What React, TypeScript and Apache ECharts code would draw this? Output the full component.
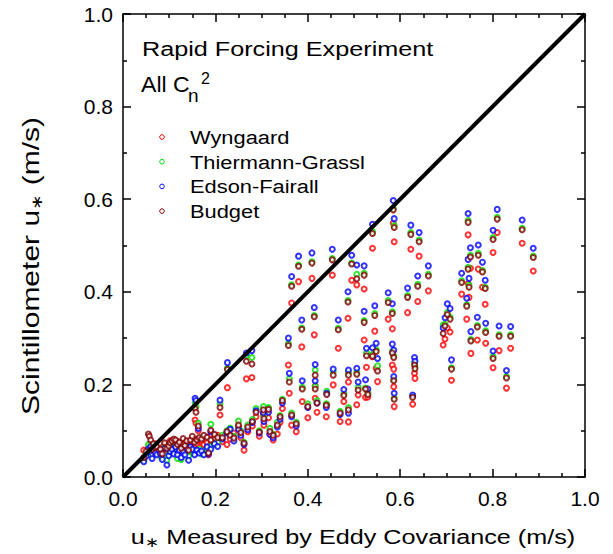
import React, { useEffect, useRef } from "react";
import * as echarts from "echarts";

// u* measured by eddy covariance (m/s), shared by the four scintillometer methods
const xVals = [
  0.540, 0.585, 0.587, 0.623, 0.641, 0.661, 0.638, 0.616, 0.574, 0.583,
  0.545, 0.522, 0.522, 0.548, 0.540, 0.551, 0.583, 0.586, 0.586, 0.587,
  0.631, 0.632, 0.627, 0.525, 0.693, 0.697, 0.702, 0.708, 0.711, 0.733,
  0.747, 0.747, 0.749, 0.744, 0.752, 0.753, 0.769, 0.767, 0.778, 0.784,
  0.785, 0.801, 0.801, 0.810, 0.814, 0.830, 0.839, 0.864, 0.888, 0.380,
  0.365, 0.409, 0.453, 0.495, 0.506, 0.487, 0.358, 0.387, 0.414, 0.360,
  0.388, 0.416, 0.416, 0.441, 0.455, 0.466, 0.478, 0.488, 0.488, 0.509,
  0.506, 0.527, 0.530, 0.226, 0.279, 0.267, 0.156, 0.158, 0.163, 0.210,
  0.190, 0.232, 0.250, 0.262, 0.288, 0.304, 0.318, 0.334, 0.185, 0.045,
  0.050, 0.055, 0.057, 0.060, 0.063, 0.066, 0.070, 0.073, 0.081, 0.085,
  0.090, 0.095, 0.099, 0.102, 0.106, 0.110, 0.114, 0.118, 0.122, 0.126,
  0.130, 0.134, 0.138, 0.142, 0.146, 0.150, 0.155, 0.160, 0.165, 0.170,
  0.175, 0.182, 0.190, 0.198, 0.205, 0.215, 0.225, 0.240, 0.255, 0.270,
  0.280, 0.295, 0.305, 0.315, 0.325, 0.340, 0.345, 0.440, 0.470, 0.400,
  0.420, 0.365, 0.375,
];

const edson = [
  0.546, 0.597, 0.558, 0.544, 0.528, 0.456, 0.434, 0.408, 0.398, 0.374,
  0.370, 0.456, 0.358, 0.289, 0.279, 0.256, 0.287, 0.274, 0.217, 0.181,
  0.258, 0.250, 0.177, 0.210, 0.322, 0.344, 0.374, 0.364, 0.253, 0.440,
  0.569, 0.470, 0.429, 0.386, 0.495, 0.314, 0.501, 0.345, 0.464, 0.425,
  0.332, 0.533, 0.272, 0.578, 0.326, 0.230, 0.325, 0.555, 0.494, 0.477,
  0.433, 0.484, 0.492, 0.479, 0.458, 0.400, 0.300, 0.339, 0.366, 0.224,
  0.208, 0.243, 0.208, 0.181, 0.233, 0.339, 0.189, 0.231, 0.138, 0.205,
  0.235, 0.278, 0.190, 0.247, 0.273, 0.268, 0.170, 0.165, 0.105, 0.166,
  0.098, 0.103, 0.103, 0.070, 0.143, 0.139, 0.092, 0.108, 0.050, 0.033,
  0.045, 0.060, 0.055, 0.065, 0.040, 0.060, 0.052, 0.048, 0.051, 0.038,
  0.062, 0.026, 0.046, 0.055, 0.060, 0.050, 0.065, 0.048, 0.058, 0.042,
  0.055, 0.048, 0.062, 0.036, 0.065, 0.060, 0.048, 0.058, 0.052, 0.056,
  0.048, 0.065, 0.060, 0.072, 0.066, 0.082, 0.095, 0.078, 0.090, 0.102,
  0.118, 0.095, 0.120, 0.140, 0.085, 0.125, 0.160, 0.150, 0.135, 0.150,
  0.160, 0.130, 0.110,
];

const thiermann = [
  0.530, 0.580, 0.543, 0.528, 0.512, 0.438, 0.416, 0.392, 0.381, 0.357,
  0.353, 0.440, 0.338, 0.275, 0.265, 0.240, 0.271, 0.262, 0.210, 0.170,
  0.246, 0.238, 0.175, 0.192, 0.328, 0.330, 0.355, 0.345, 0.236, 0.424,
  0.554, 0.453, 0.414, 0.372, 0.479, 0.297, 0.483, 0.327, 0.446, 0.410,
  0.316, 0.517, 0.260, 0.561, 0.307, 0.217, 0.307, 0.537, 0.477, 0.458,
  0.415, 0.465, 0.472, 0.462, 0.438, 0.381, 0.288, 0.322, 0.349, 0.212,
  0.194, 0.231, 0.196, 0.185, 0.228, 0.321, 0.180, 0.225, 0.150, 0.194,
  0.226, 0.268, 0.182, 0.235, 0.258, 0.262, 0.160, 0.152, 0.116, 0.158,
  0.114, 0.106, 0.121, 0.075, 0.148, 0.152, 0.105, 0.118, 0.055, 0.036,
  0.050, 0.070, 0.062, 0.068, 0.048, 0.065, 0.058, 0.056, 0.045, 0.042,
  0.066, 0.036, 0.050, 0.060, 0.064, 0.056, 0.066, 0.040, 0.060, 0.038,
  0.060, 0.052, 0.066, 0.045, 0.058, 0.054, 0.050, 0.055, 0.060, 0.050,
  0.052, 0.060, 0.066, 0.070, 0.075, 0.090, 0.100, 0.088, 0.100, 0.112,
  0.124, 0.100, 0.130, 0.150, 0.092, 0.133, 0.168, 0.158, 0.142, 0.158,
  0.165, 0.138, 0.118,
];

const budget = [
  0.526, 0.577, 0.539, 0.524, 0.508, 0.434, 0.412, 0.388, 0.377, 0.353,
  0.349, 0.436, 0.334, 0.271, 0.261, 0.229, 0.268, 0.258, 0.208, 0.168,
  0.242, 0.234, 0.172, 0.190, 0.310, 0.326, 0.351, 0.341, 0.233, 0.420,
  0.550, 0.449, 0.410, 0.369, 0.475, 0.294, 0.479, 0.324, 0.443, 0.407,
  0.312, 0.513, 0.256, 0.557, 0.304, 0.214, 0.304, 0.534, 0.474, 0.455,
  0.412, 0.462, 0.469, 0.460, 0.428, 0.378, 0.284, 0.319, 0.346, 0.205,
  0.190, 0.220, 0.190, 0.178, 0.220, 0.318, 0.176, 0.220, 0.145, 0.188,
  0.222, 0.262, 0.178, 0.232, 0.244, 0.250, 0.148, 0.140, 0.110, 0.150,
  0.101, 0.090, 0.112, 0.073, 0.140, 0.145, 0.098, 0.112, 0.052, 0.042,
  0.055, 0.093, 0.088, 0.080, 0.060, 0.072, 0.063, 0.066, 0.060, 0.050,
  0.074, 0.062, 0.067, 0.074, 0.078, 0.082, 0.080, 0.070, 0.075, 0.062,
  0.083, 0.068, 0.078, 0.058, 0.080, 0.088, 0.075, 0.080, 0.085, 0.082,
  0.090, 0.086, 0.080, 0.092, 0.085, 0.085, 0.098, 0.084, 0.096, 0.108,
  0.120, 0.097, 0.126, 0.146, 0.090, 0.130, 0.165, 0.155, 0.138, 0.152,
  0.160, 0.134, 0.115,
];

const wyngaard = [
  0.494, 0.548, 0.508, 0.492, 0.477, 0.402, 0.379, 0.355, 0.341, 0.320,
  0.315, 0.406, 0.296, 0.235, 0.260, 0.206, 0.242, 0.233, 0.195, 0.152,
  0.224, 0.213, 0.157, 0.172, 0.285, 0.298, 0.322, 0.313, 0.209, 0.395,
  0.523, 0.418, 0.388, 0.341, 0.451, 0.267, 0.449, 0.296, 0.410, 0.373,
  0.289, 0.485, 0.236, 0.528, 0.273, 0.192, 0.278, 0.505, 0.445, 0.422,
  0.376, 0.429, 0.436, 0.425, 0.415, 0.343, 0.242, 0.281, 0.307, 0.181,
  0.163, 0.197, 0.170, 0.156, 0.199, 0.278, 0.163, 0.205, 0.119, 0.177,
  0.156, 0.237, 0.173, 0.193, 0.215, 0.212, 0.123, 0.116, 0.100, 0.134,
  0.091, 0.082, 0.109, 0.058, 0.130, 0.135, 0.093, 0.093, 0.048, 0.058,
  0.048, 0.062, 0.070, 0.051, 0.066, 0.058, 0.072, 0.062, 0.055, 0.064,
  0.070, 0.058, 0.060, 0.078, 0.068, 0.072, 0.060, 0.076, 0.066, 0.070,
  0.064, 0.074, 0.060, 0.068, 0.070, 0.075, 0.082, 0.070, 0.064, 0.078,
  0.070, 0.074, 0.070, 0.084, 0.090, 0.076, 0.070, 0.095, 0.085, 0.098,
  0.110, 0.088, 0.112, 0.128, 0.080, 0.118, 0.148, 0.130, 0.120, 0.128,
  0.140, 0.112, 0.098,
];

const oneToOne = [0, 1];

const seriesNames = ["Wyngaard", "Thiermann-Grassl", "Edson-Fairall", "Budget"];
const seriesColors = ["#ff0000", "#00e000", "#0000ff", "#800000"];
const seriesValues = [wyngaard, thiermann, edson, budget];

const FONT = "'Liberation Sans', Arial, sans-serif";

export default function App() {
  const ref = useRef<HTMLDivElement>(null);

  useEffect(() => {
    document.body.style.margin = "0";
    if (!ref.current) return;
    const chart = echarts.init(ref.current, undefined, { renderer: "svg" });

    const axisCommon = {
      type: "value" as const,
      min: 0,
      max: 1,
      interval: 0.2,
      splitLine: { show: false },
      axisLine: { show: true, onZero: false, lineStyle: { color: "#000", width: 1.5 } },
      axisTick: { show: true, inside: true, length: 8, lineStyle: { color: "#000", width: 1.5 } },
      axisLabel: {
        color: "#000",
        fontSize: 21,
        fontFamily: FONT,
        formatter: (v: number) => v.toFixed(1),
      },
    };

    const scatterSeries = seriesNames.map((name, k) => ({
      type: "scatter" as const,
      name,
      xAxisIndex: 0,
      yAxisIndex: 0,
      symbol: "emptyCircle",
      symbolSize: 5,
      itemStyle: { color: seriesColors[k], borderColor: seriesColors[k], borderWidth: 1 },
      data: xVals.map((x, i) => [x, seriesValues[k][i]]),
      z: 3 + k,
    }));

    const legendItems: any[] = [];
    const legendTop = 137;
    const legendGap = 24.7;
    seriesNames.forEach((name, k) => {
      const cy = legendTop + k * legendGap;
      legendItems.push({
        type: "circle",
        shape: { cx: 162, cy, r: 2.3 },
        style: { fill: "#fff", stroke: seriesColors[k], lineWidth: 1 },
      });
      legendItems.push({
        type: "text",
        x: 190,
        y: cy,
        scaleX: 1.15,
        style: {
          text: name,
          fill: "#000",
          font: `19px ${FONT}`,
          align: "left",
          verticalAlign: "middle",
        },
      });
    });

    chart.setOption({
      animation: false,
      backgroundColor: "#fff",
      grid: { left: 123, top: 14, width: 462, height: 463, containLabel: false },
      xAxis: [
        {
          ...axisCommon,
          position: "bottom",
          minorTick: { show: true, splitNumber: 4, length: 4, lineStyle: { color: "#000", width: 1.5 } },
          axisLabel: { ...axisCommon.axisLabel, margin: 11 },
        },
        {
          ...axisCommon,
          position: "top",
          minorTick: { show: true, splitNumber: 4, length: 4, lineStyle: { color: "#000", width: 1.5 } },
          axisLabel: { show: false },
        },
      ],
      yAxis: [
        {
          ...axisCommon,
          position: "left",
          minorTick: { show: true, splitNumber: 2, length: 4, lineStyle: { color: "#000", width: 1.5 } },
          axisLabel: { ...axisCommon.axisLabel, margin: 10 },
        },
        {
          ...axisCommon,
          position: "right",
          minorTick: { show: true, splitNumber: 2, length: 4, lineStyle: { color: "#000", width: 1.5 } },
          axisLabel: { show: false },
        },
      ],
      series: [
        ...scatterSeries,
        {
          type: "line",
          name: "1:1",
          xAxisIndex: 0,
          yAxisIndex: 0,
          data: oneToOne.map((v) => [v, v]),
          symbol: "none",
          lineStyle: { color: "#000", width: 4 },
          z: 10,
          silent: true,
        },
      ],
      graphic: [
        {
          type: "text",
          x: 142,
          y: 49,
          scaleX: 1.2,
          style: {
            text: "Rapid Forcing Experiment",
            fill: "#000",
            font: `21px ${FONT}`,
            align: "left",
            verticalAlign: "middle",
          },
        },
        {
          type: "text",
          x: 141,
          y: 85,
          scaleX: 1.05,
          style: {
            text: "All C",
            fill: "#000",
            font: `22px ${FONT}`,
            align: "left",
            verticalAlign: "middle",
          },
        },
        {
          type: "text",
          x: 188,
          y: 95,
          style: {
            text: "n",
            fill: "#000",
            font: `19px ${FONT}`,
            align: "left",
            verticalAlign: "middle",
          },
        },
        {
          type: "text",
          x: 201,
          y: 78,
          style: {
            text: "2",
            fill: "#000",
            font: `16px ${FONT}`,
            align: "left",
            verticalAlign: "middle",
          },
        },
        ...legendItems,
        {
          type: "text",
          x: 353,
          y: 537,
          scaleX: 1.2,
          style: {
            text: "u{s|∗} Measured by Eddy Covariance (m/s)",
            fill: "#000",
            font: `21px ${FONT}`,
            align: "center",
            verticalAlign: "middle",
            rich: {
              s: { fontSize: 14, fontFamily: FONT, padding: [11, 0, 0, 0], fill: "#000" },
            },
          },
        },
        {
          type: "text",
          x: 31,
          y: 266,
          rotation: Math.PI / 2,
          scaleX: 1.25,
          style: {
            text: "Scintillometer u{s|∗} (m/s)",
            fill: "#000",
            font: `24px ${FONT}`,
            align: "center",
            verticalAlign: "middle",
            rich: {
              s: { fontSize: 15, fontFamily: FONT, padding: [12, 0, 0, 0], fill: "#000" },
            },
          },
        },
      ],
    });

    return () => chart.dispose();
  }, []);

  return <div ref={ref} style={{ width: 613, height: 554 }} />;
}
